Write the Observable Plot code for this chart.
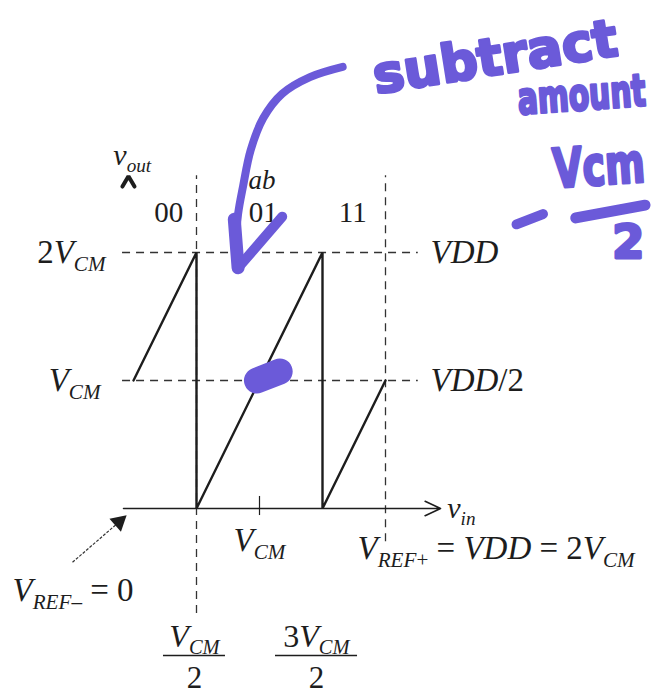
<!DOCTYPE html>
<html>
<head>
<meta charset="utf-8">
<script src="https://cdn.jsdelivr.net/npm/d3@7"></script>
<script src="https://cdn.jsdelivr.net/npm/@observablehq/plot@0.6"></script>
<style>
  html, body { margin: 0; padding: 0; background: #fff; overflow: hidden; }
  #chart svg { display: block; }
</style>
</head>
<body>
<div id="chart"></div>
<script>
// Residue transfer curve of a 1.5-bit stage; all values in units of V_CM.
const vin  = [0, 0.5, 0.5, 1.5, 1.5, 2];
const vout = [1, 2,   0,   2,   0,   1];

// Comparator codes ab for each input region
const codes  = ["00", "01", "11"];
const codeX  = [0.28, 1.03, 1.74];
const codeY  = 2.31;

// Reference levels on the vout axis (left / right labels)
const levels      = [2, 1];
const levelLeft   = ["2V_{CM}", "V_{CM}"];
const levelRight  = ["VDD", "VDD/2"];

// Decision thresholds (dashed verticals)
const thresholds  = [0.5, 2];
const thresholdLo = [-0.82, -0.26];

// Hand annotation: pen stroke of the arrow, in (vin, vout) units
const penX = [1.66, 1.40, 1.18, 1.03, 0.93, 0.87, 0.83, 0.815, 0.83];
const penY = [3.45, 3.37, 3.24, 3.05, 2.80, 2.52, 2.30, 2.09, 1.88];
const penWingX = [0.83, 1.18];
const penWingY = [1.88, 2.28];
const blobX = [0.98, 1.16];
const blobY = [1.00, 1.07];
const noteWords = ["subtract", "amount", "Vcm", "2"];
const noteX = [2.87, 3.05, 3.33, 3.80];
const noteY = [3.52, 3.19, 2.64, 2.07];
const noteRot = [-9, -4, -4, 0];
const noteSize = [52, 44, 54, 46];
const noteFit = [250, 128, 92, null];
const minusX = [3.04, 3.25], minusY = [2.22, 2.30];
const barX = [3.51, 4.06], barY = [2.27, 2.37];

const ink = "#1d1d1d";
const pen = "#6b5ad9";
const serif = "Liberation Serif";

const rows = (xs, ys) => xs.map((x, i) => ({x, y: ys[i]}));
const saw = rows(vin, vout);

const chart = Plot.plot({
  width: 661,
  height: 694,
  marginLeft: 133,
  marginRight: 276,
  marginTop: 252,
  marginBottom: 186,
  x: {domain: [0, 2], axis: null},
  y: {domain: [0, 2], axis: null},
  style: {background: "#fff"},
  marks: [
    // dashed guides
    Plot.ruleY(levels, {y: d => d, x1: -0.087, x2: 2.26, stroke: "#333", strokeWidth: 1.3, strokeDasharray: "8,6"}),
    Plot.ruleX(thresholds, {x: d => d, y1: (d, i) => thresholdLo[i], y2: 2.6, stroke: "#333", strokeWidth: 1.3, strokeDasharray: "8,6"}),
    // vin axis with arrow
    Plot.arrow([0], {x1: -0.079, y1: 0, x2: 2.437, y2: 0, stroke: ink, strokeWidth: 1.6, headLength: 16, headAngle: 50}),
    // V_CM tick
    Plot.ruleX([1], {y1: -0.055, y2: 0.094, stroke: ink, strokeWidth: 1.2}),
    // vout arrowhead
    Plot.line([{x: -0.088, y: 2.515}, {x: -0.04, y: 2.595}, {x: 0.008, y: 2.515}], {x: "x", y: "y", stroke: ink, strokeWidth: 4, strokeLinejoin: "miter"}),
    // residue curve
    Plot.line(saw, {x: "x", y: "y", stroke: ink, strokeWidth: 2.4, strokeLinejoin: "miter"}),
    // pointer to V_REF-
    Plot.link([0], {x1: -0.484, y1: -0.42, x2: -0.12, y2: -0.11, stroke: "#333", strokeWidth: 1.2, strokeDasharray: "3,1.5"}),
    Plot.dot([0], {x: -0.115, y: -0.105, symbol: "triangle", r: 6.5, rotate: 49, fill: ink, stroke: "none"}),
    // fraction bars
    Plot.ruleY([-1.148], {x1: 0.238, x2: 0.73, stroke: ink, strokeWidth: 1.6}),
    Plot.ruleY([-1.148], {x1: 1.127, x2: 1.778, stroke: ink, strokeWidth: 1.6}),

    // labels
    Plot.text(codes, {x: (d, i) => codeX[i], y: codeY, text: d => d, fontFamily: serif, fontSize: 29, fill: ink}),
    Plot.text(["ab"], {x: 1.02, y: 2.56, text: d => d, fontFamily: serif, fontSize: 27, fill: ink}),
    Plot.text(["v_{out}"], {x: -0.16, y: 2.76, text: d => d, textAnchor: "start", fontFamily: serif, fontSize: 30, fill: ink}),
    Plot.text(levelLeft, {x: (d, i) => i ? -0.262 : -0.222, y: (d, i) => levels[i], text: d => d, textAnchor: "end", fontFamily: serif, fontSize: 33, fill: ink}),
    Plot.text(levelRight, {x: 2.357, y: (d, i) => levels[i], text: d => d, textAnchor: "start", fontFamily: serif, fontSize: 33, fill: ink}),
    Plot.text(["v_{in}"], {x: 2.49, y: 0.0, text: d => d, textAnchor: "start", fontFamily: serif, fontSize: 30, fill: ink}),
    Plot.text(["V_{CM}"], {x: 1.0, y: -0.25, text: d => d, fontFamily: serif, fontSize: 33, fill: ink}),
    Plot.text(["V_{REF+} = VDD = 2V_{CM}"], {x: 1.778, y: -0.3125, text: d => d, textAnchor: "start", fontFamily: serif, fontSize: 33, fill: ink}),
    Plot.text(["V_{REF\u2013} = 0"], {x: -0.96, y: -0.64, text: d => d, textAnchor: "start", fontFamily: serif, fontSize: 33, fill: ink}),
    Plot.text(["V_{CM}", "3V_{CM}"], {x: (d, i) => i ? 1.452 : 0.484, y: -1.0, text: d => d, fontFamily: serif, fontSize: 32, fill: ink}),
    Plot.text(["2", "2"], {x: (d, i) => i ? 1.452 : 0.484, y: -1.325, text: d => d, fontFamily: serif, fontSize: 31, fill: ink}),

    // marker notes
    Plot.line(rows(penX, penY), {x: "x", y: "y", curve: "catmull-rom", stroke: pen, strokeWidth: 8, strokeLinecap: "round"}),
    Plot.line(rows([0.80, 0.83], [2.26, 1.88]), {x: "x", y: "y", stroke: pen, strokeWidth: 13, strokeLinecap: "round"}),
    Plot.line(rows(penWingX, penWingY), {x: "x", y: "y", stroke: pen, strokeWidth: 10, strokeLinecap: "round"}),
    Plot.line(rows(blobX, blobY), {x: "x", y: "y", stroke: pen, strokeWidth: 26, strokeLinecap: "round"}),
    Plot.line(rows(minusX, minusY), {x: "x", y: "y", stroke: pen, strokeWidth: 10, strokeLinecap: "round"}),
    Plot.line(rows(barX, barY), {x: "x", y: "y", stroke: pen, strokeWidth: 11, strokeLinecap: "round"}),
    ...noteWords.map((w, i) => Plot.text([w], {
      x: noteX[i], y: noteY[i], text: d => d, textAnchor: i === 0 ? "middle" : "start",
      rotate: noteRot[i], fontSize: noteSize[i], fontFamily: "DejaVu Sans", fontWeight: "bold",
      fill: pen, stroke: pen, strokeWidth: 3, strokeLinejoin: "round"
    }))
  ]
});

document.getElementById("chart").appendChild(chart);

d3.select(chart).selectAll("g").each(function () {
  const fam = this.getAttribute("font-family") || "";
  if (fam.includes("DejaVu")) {
    // narrow the marker words horizontally so they stay inside the page
    d3.select(this).selectAll("text").each(function () {
      const k = noteWords.indexOf(this.textContent);
      if (k < 0 || !noteFit[k]) return;
      const w = this.getComputedTextLength();
      if (w > noteFit[k]) {
        const tr = this.getAttribute("transform") || "";
        this.setAttribute("transform", `${tr} scale(${(noteFit[k] / w).toFixed(3)},1)`);
      }
    });
    return;
  }
  if (!fam.includes("Serif")) return;
  // Typeset serif labels: letters italic, digits and symbols upright, _{...} as subscript.
  const size = parseFloat(this.getAttribute("font-size")) || 30;
  d3.select(this).selectAll("text").each(function () {
    const raw = this.textContent;
    const runs = [];
    let sub = false;
    for (let i = 0; i < raw.length; i++) {
      if (raw.startsWith("_{", i)) { sub = true; i++; continue; }
      if (raw[i] === "}" && sub) { sub = false; continue; }
      const ch = raw[i];
      const it = /[A-Za-z]/.test(ch);
      const last = runs[runs.length - 1];
      if (last && last.it === it && last.sub === sub) last.text += ch;
      else runs.push({text: ch, it, sub});
    }
    this.textContent = "";
    let cur = false;
    const shift = size * 0.24;
    for (const r of runs) {
      const t = d3.select(this).append("tspan").text(r.text)
        .attr("font-style", r.it ? "italic" : "normal");
      if (r.sub) t.attr("font-size", size * 0.64);
      if (r.sub !== cur) { t.attr("dy", r.sub ? shift : -shift); cur = r.sub; }
    }
  });
});
</script>
</body>
</html>
